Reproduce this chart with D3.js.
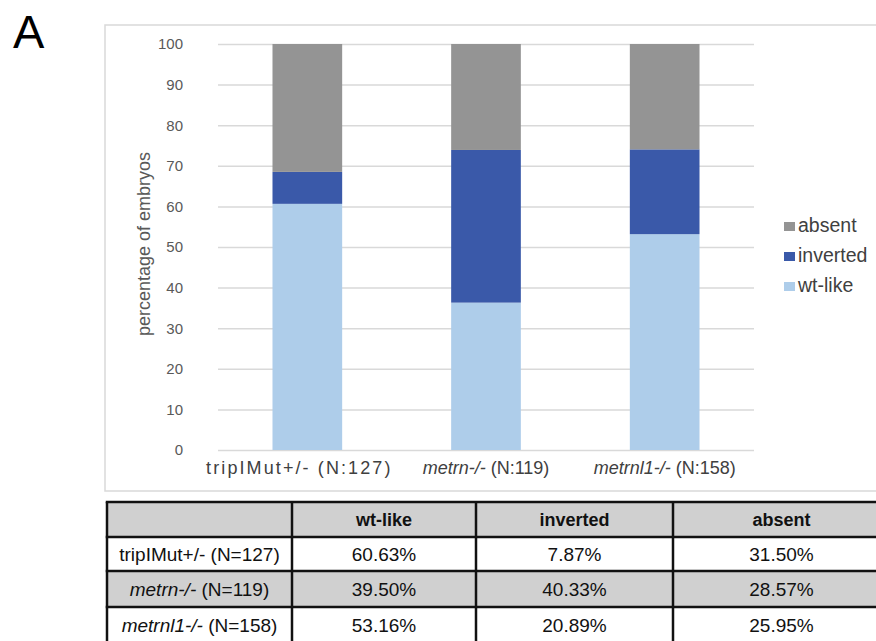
<!DOCTYPE html>
<html>
<head>
<meta charset="utf-8">
<script src="https://cdn.jsdelivr.net/npm/d3@7"></script>
<style>
  body { margin: 0; background: #fff; }
  svg { display: block; font-family: "Liberation Sans", Arial, sans-serif; }
</style>
</head>
<body>
<svg id="chart" width="876" height="641"></svg>
<script>
// genotypes (gene part is italic for the mutants)
const genes = ["tripIMut+/-", "metrn-/-", "metrnl1-/-"];
const counts = [127, 119, 158];

// bar values (percent)
const wtLike = [60.63, 36.3, 53.16];
const inverted = [7.87, 37.6, 20.89];
const absent = [31.5, 26.1, 25.95];

// table values (percent)
const tableWt = [60.63, 39.50, 53.16];
const tableInv = [7.87, 40.33, 20.89];
const tableAbs = [31.50, 28.57, 25.95];

const seriesNames = ["wt-like", "inverted", "absent"];
const yTicks = [0, 10, 20, 30, 40, 50, 60, 70, 80, 90, 100];

const colors = { "wt-like": "#aecdea", "inverted": "#3a59a9", "absent": "#949494" };

const svg = d3.select("#chart");

// panel letter
svg.append("text").attr("x", 13).attr("y", 48)
    .attr("font-size", 47).attr("fill", "#000").text("A");

// chart frame
svg.append("rect").attr("x", 105).attr("y", 25).attr("width", 820).attr("height", 466)
    .attr("fill", "none").attr("stroke", "#d9d9d9").attr("stroke-width", 1.5);

const x = d3.scaleBand().domain(genes).range([218, 754]).paddingInner(0.61).paddingOuter(0.305);
const y = d3.scaleLinear().domain([0, 100]).range([450, 44]);

// gridlines
svg.append("g")
    .attr("transform", "translate(218,0)")
    .call(d3.axisLeft(y).tickValues(yTicks).tickSize(-536).tickFormat(""))
    .call(g => g.select(".domain").remove())
    .call(g => g.selectAll("line").attr("stroke", "#d9d9d9").attr("stroke-width", 1.5));

// y tick labels
svg.append("g")
    .attr("transform", "translate(218,0)")
    .call(d3.axisLeft(y).tickValues(yTicks).tickSize(0).tickPadding(35))
    .call(g => g.select(".domain").remove())
    .call(g => g.selectAll("text").attr("font-size", 15).attr("fill", "#595959")
        .attr("font-family", "Liberation Sans, Arial, sans-serif"));

// y title
svg.append("text")
    .attr("transform", "translate(150,244) rotate(-90)")
    .attr("text-anchor", "middle")
    .attr("font-size", 18).attr("fill", "#595959")
    .text("percentage of embryos");

// stacked bars
const rows = genes.map((g, i) => ({ gene: g, "wt-like": wtLike[i], "inverted": inverted[i], "absent": absent[i] }));
const stacked = d3.stack().keys(seriesNames)(rows);

svg.append("g").selectAll("g")
    .data(stacked)
    .join("g")
    .attr("fill", d => colors[d.key])
    .selectAll("rect")
    .data(d => d)
    .join("rect")
    .attr("x", d => x(d.data.gene))
    .attr("width", x.bandwidth())
    .attr("y", d => y(Math.min(100, d[1])))
    .attr("height", d => y(d[0]) - y(Math.min(100, d[1])));

// x labels
const xl = svg.append("g").selectAll("text")
    .data(genes)
    .join("text")
    .attr("x", (d, i) => x(d) + x.bandwidth() / 2 + (i === 0 ? -8 : 0))
    .attr("y", 474)
    .attr("text-anchor", "middle")
    .attr("font-size", 18)
    .attr("fill", "#404040")
    .attr("letter-spacing", (d, i) => i === 0 ? 2.1 : 0);
xl.append("tspan")
    .attr("font-style", (d, i) => i === 0 ? "normal" : "italic")
    .text(d => d);
xl.append("tspan")
    .text((d, i) => " (N:" + counts[i] + ")");

// legend (absent on top)
const legendOrder = ["absent", "inverted", "wt-like"];
const lg = svg.append("g").selectAll("g")
    .data(legendOrder)
    .join("g")
    .attr("transform", (d, i) => `translate(784,${225 + i * 30})`);
lg.append("rect").attr("x", 0).attr("y", -3).attr("width", 11).attr("height", 9)
    .attr("fill", d => colors[d]);
lg.append("text").attr("x", 14).attr("y", 7)
    .attr("font-size", 19.5).attr("fill", "#404040")
    .text(d => d);

// table
const colEdges = [107, 292, 476, 673, 890];
const rowEdges = [502, 537, 571, 607, 643];
const header = ["", "wt-like", "inverted", "absent"];
const body = genes.map((g, i) => [
    { gene: g, n: counts[i], italic: i > 0 },
    tableWt[i].toFixed(2) + "%",
    tableInv[i].toFixed(2) + "%",
    tableAbs[i].toFixed(2) + "%"
]);

const tbl = svg.append("g");
rowEdges.slice(0, -1).forEach((top, r) => {
    const fill = (r === 0 || r === 2) ? "#d0d0d0" : "#ffffff";
    tbl.append("rect").attr("x", colEdges[0]).attr("y", top)
        .attr("width", colEdges[colEdges.length - 1] - colEdges[0])
        .attr("height", rowEdges[r + 1] - top)
        .attr("fill", fill);
});

// header text
tbl.selectAll("text.head")
    .data(header)
    .join("text")
    .attr("class", "head")
    .attr("x", (d, i) => (colEdges[i] + colEdges[i + 1]) / 2)
    .attr("y", (rowEdges[0] + rowEdges[1]) / 2 + 6)
    .attr("text-anchor", "middle")
    .attr("font-size", 18).attr("font-weight", "bold").attr("fill", "#111")
    .text(d => d);

body.forEach((row, r) => {
    const cy = (rowEdges[r + 1] + rowEdges[r + 2]) / 2 + 7;
    row.forEach((cell, c) => {
        const t = tbl.append("text")
            .attr("x", (colEdges[c] + colEdges[c + 1]) / 2)
            .attr("y", cy)
            .attr("text-anchor", "middle")
            .attr("font-size", 19).attr("fill", "#111");
        if (c === 0) {
            t.append("tspan").attr("font-style", cell.italic ? "italic" : "normal").text(cell.gene);
            t.append("tspan").text(" (N=" + cell.n + ")");
        } else {
            t.text(cell);
        }
    });
});

// table grid lines
const lineW = 2.5;
rowEdges.forEach(yy => {
    tbl.append("line").attr("x1", colEdges[0] - lineW / 2).attr("x2", colEdges[colEdges.length - 1])
        .attr("y1", yy).attr("y2", yy)
        .attr("stroke", "#111").attr("stroke-width", lineW);
});
colEdges.slice(0, -1).forEach(xx => {
    tbl.append("line").attr("x1", xx).attr("x2", xx)
        .attr("y1", rowEdges[0]).attr("y2", rowEdges[rowEdges.length - 1])
        .attr("stroke", "#111").attr("stroke-width", lineW);
});
</script>
</body>
</html>
